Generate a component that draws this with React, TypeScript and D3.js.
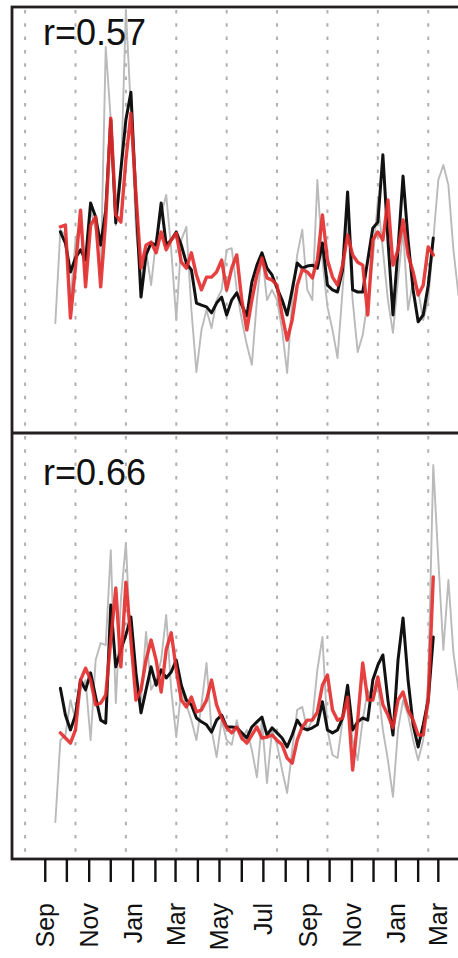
import React from "react";
import * as d3 from "d3";

// Weekly series, first value at week index START_* (weeks counted from ORIGIN)
const ORIGIN_UTC = Date.UTC(2008, 7, 4);
const START_OBS = 6;
const START_FIT = 7;

// Panel A
const observedA = [25.8, 47.7, 46.5, 31.2, 45.3, 48.8, 35.9, 52.3, 47.7, 37.1, 90.6, 73.5, 48.8, 59.4, 99.3, 75.8, 47.7, 35.9, 43.0, 34.7, 45.3, 51.2, 55.9, 43.0, 26.5, 45.3, 48.4, 28.9, 14.3, 24.2, 28.9, 24.6, 31.2, 33.6, 43.0, 43.4, 33.6, 26.5, 20.7, 16.0, 31.2, 42.3, 31.2, 33.6, 31.2, 24.2, 14.1, 31.2, 41.8, 47.7, 33.6, 31.2, 59.4, 40.6, 29.6, 24.2, 17.6, 33.6, 50.0, 31.2, 19.0, 23.0, 31.2, 40.6, 54.7, 43.0, 31.2, 23.5, 35.9, 47.7, 28.9, 35.9, 33.6, 26.5, 31.2, 45.3, 59.4, 62.9, 58.2, 43.0, 32.4];
const fittedA = [47.2, 44.6, 37.8, 41.1, 43.0, 40.6, 54.0, 50.7, 44.1, 52.3, 73.5, 49.3, 61.7, 73.5, 80.0, 54.7, 31.9, 41.8, 44.6, 44.1, 54.0, 44.1, 45.3, 47.2, 44.1, 39.9, 38.3, 30.5, 30.0, 29.6, 28.2, 30.5, 31.9, 27.7, 31.2, 32.9, 30.0, 27.5, 35.4, 39.4, 42.3, 38.7, 37.1, 34.0, 31.2, 27.7, 33.6, 39.9, 38.7, 39.2, 39.4, 38.7, 44.6, 34.7, 33.6, 33.1, 38.3, 56.6, 33.6, 33.1, 33.1, 40.6, 48.1, 49.5, 65.3, 45.3, 27.7, 43.0, 60.3, 45.3, 33.6, 26.1, 27.7, 34.7, 45.8];
const estimatedA = [48.4, 48.8, 27.0, 39.0, 52.3, 34.3, 48.8, 50.7, 34.3, 50.0, 73.9, 51.2, 49.5, 64.1, 75.1, 55.9, 38.7, 44.1, 44.8, 42.3, 47.2, 43.0, 45.3, 46.9, 40.1, 38.7, 42.3, 37.1, 33.6, 36.6, 36.6, 37.8, 40.6, 33.6, 38.7, 41.8, 31.2, 24.2, 31.2, 37.1, 41.1, 36.4, 35.9, 34.7, 27.7, 21.8, 26.5, 34.7, 38.3, 37.8, 36.4, 40.6, 51.2, 40.6, 36.6, 34.7, 39.4, 46.5, 41.8, 40.1, 39.4, 27.7, 45.3, 47.2, 45.3, 54.7, 39.4, 43.0, 50.0, 41.8, 37.8, 32.4, 34.7, 43.7, 41.8];

// Panel B
const observedB = [8.7, 27.9, 29.1, 37.3, 32.6, 39.7, 42.0, 27.9, 46.7, 50.7, 50.2, 72.5, 36.6, 60.8, 74.2, 49.1, 42.0, 37.3, 53.3, 39.7, 42.0, 46.7, 57.3, 39.7, 28.6, 39.7, 36.2, 32.6, 27.9, 36.2, 46.0, 30.3, 23.9, 32.6, 27.9, 26.8, 32.6, 27.9, 30.3, 25.6, 19.2, 32.6, 17.8, 30.3, 26.8, 20.9, 15.5, 25.6, 35.0, 35.7, 30.3, 32.6, 44.4, 52.1, 30.3, 24.4, 23.7, 32.6, 37.3, 27.9, 23.2, 32.6, 39.7, 37.3, 40.8, 30.3, 23.2, 14.6, 30.3, 37.3, 33.8, 27.9, 23.2, 27.9, 42.0, 92.5, 70.2, 49.1, 65.5, 48.4, 39.7];
const fittedB = [40.1, 33.8, 30.3, 33.8, 42.0, 39.7, 43.7, 38.0, 32.6, 31.9, 59.6, 45.1, 49.1, 52.6, 56.8, 43.7, 34.3, 39.7, 45.1, 40.8, 44.4, 42.5, 43.9, 46.7, 40.8, 37.3, 36.2, 33.1, 32.2, 31.5, 29.8, 32.6, 33.8, 31.0, 31.0, 30.8, 29.6, 28.4, 31.0, 32.2, 33.3, 29.1, 30.8, 29.6, 28.4, 26.3, 29.1, 32.6, 30.8, 30.3, 30.8, 31.5, 36.9, 30.3, 29.6, 30.3, 33.1, 40.8, 30.3, 32.2, 33.1, 32.6, 42.0, 45.5, 47.9, 37.3, 29.1, 46.7, 56.6, 42.0, 31.5, 26.3, 31.5, 37.3, 52.1];
const estimatedB = [29.6, 28.4, 27.2, 30.3, 42.0, 44.8, 42.0, 36.2, 36.6, 38.5, 51.4, 63.6, 45.1, 65.0, 51.4, 37.3, 39.7, 46.7, 51.4, 46.7, 39.2, 49.1, 53.1, 44.4, 37.3, 35.7, 38.0, 34.5, 35.0, 37.3, 42.0, 36.2, 33.1, 30.8, 29.6, 31.0, 28.4, 27.2, 29.1, 31.0, 28.4, 28.6, 29.1, 27.9, 26.8, 23.7, 22.5, 27.9, 31.0, 32.6, 32.6, 34.5, 40.8, 43.2, 35.0, 32.6, 33.1, 38.0, 20.9, 32.6, 46.0, 37.3, 37.3, 42.7, 36.2, 33.8, 30.8, 37.3, 39.2, 35.0, 32.6, 29.1, 29.1, 37.3, 66.2];

const correlations = ["r=0.57", "r=0.66"];

const W = 458;
const H = 958;
const FRAME = { left: 12, right: 462, top: 7, mid: 433, bottom: 859 };
const WEEK_MS = 7 * 864e5;
const weekToDate = (w: number) => new Date(ORIGIN_UTC + w * WEEK_MS);

const FONT = "'Liberation Sans', Arial, Helvetica, sans-serif";
const FRAME_COLOR = "#231f20";

export default function App() {
  const x = d3
    .scaleUtc()
    .domain([weekToDate(-2.6), weekToDate(86.7)])
    .range([FRAME.left, FRAME.right]);

  const panels = [
    { top: FRAME.top, bottom: FRAME.mid, obs: observedA, fit: fittedA, est: estimatedA, label: correlations[0], labelY: 45 },
    { top: FRAME.mid, bottom: FRAME.bottom, obs: observedB, fit: fittedB, est: estimatedB, label: correlations[1], labelY: 485 },
  ];

  const gridWeeks = d3.range(0, 81, 10);
  const monthTicks = d3.utcMonth.range(new Date(Date.UTC(2008, 8, 1)), new Date(Date.UTC(2010, 2, 2)));
  const fmt = d3.utcFormat("%b");

  const lineFor = (y: d3.ScaleLinear<number, number>, start: number) =>
    d3
      .line<number>()
      .x((_, i) => x(weekToDate(start + i)))
      .y((v) => y(v));

  const tickTop = FRAME.bottom;
  const tickLen = 23;
  const labelSize = 25;

  return (
    <svg
      width={W}
      height={H}
      viewBox={`0 0 ${W} ${H}`}
      style={{ position: "absolute", left: 0, top: 0, background: "#fff" }}
    >
      <defs>
        {panels.map((p, i) => (
          <clipPath id={`panel-clip-${i}`} key={i}>
            <rect x={FRAME.left} y={p.top} width={FRAME.right - FRAME.left} height={p.bottom - p.top} />
          </clipPath>
        ))}
      </defs>
      <rect x={0} y={0} width={W} height={H} fill="#fff" />

      {panels.map((p, i) => {
        const y = d3.scaleLinear().domain([0, 100]).range([p.bottom, p.top]);
        return (
          <g key={i}>
            {gridWeeks.map((w) => (
              <line
                key={w}
                x1={x(weekToDate(w))}
                x2={x(weekToDate(w))}
                y1={p.top + 3}
                y2={p.bottom - 2}
                stroke="#b0b0b0"
                strokeWidth={2}
                strokeDasharray="3.5 9.8"
              />
            ))}
            <g clipPath={`url(#panel-clip-${i})`} fill="none" strokeLinejoin="round" strokeLinecap="round">
              <path d={lineFor(y, START_OBS)(p.obs) || ""} stroke="#bababa" strokeWidth={1.9} />
              <path d={lineFor(y, START_FIT)(p.fit) || ""} stroke="#111111" strokeWidth={3} />
              <path d={lineFor(y, START_FIT)(p.est) || ""} stroke="#e32b2b" strokeWidth={3.4} strokeOpacity={0.9} />
            </g>
            <text x={43} y={p.labelY} fontFamily={FONT} fontSize={36} fill="#111">
              {p.label}
            </text>
          </g>
        );
      })}

      {/* frame */}
      <rect
        x={FRAME.left}
        y={FRAME.top}
        width={FRAME.right - FRAME.left}
        height={FRAME.bottom - FRAME.top}
        fill="none"
        stroke={FRAME_COLOR}
        strokeWidth={2.8}
      />
      <line x1={FRAME.left} x2={FRAME.right} y1={FRAME.mid} y2={FRAME.mid} stroke={FRAME_COLOR} strokeWidth={2.8} />

      {/* month axis */}
      {monthTicks.map((d, i) => {
        const tx = x(d);
        return (
          <g key={i}>
            <line x1={tx} x2={tx} y1={tickTop} y2={tickTop + tickLen} stroke="#111" strokeWidth={2.4} />
            {i % 2 === 0 && (
              <text
                transform={`translate(${tx + labelSize * 0.36},${903}) rotate(-90)`}
                textAnchor="end"
                fontFamily={FONT}
                fontSize={labelSize}
                fill="#111"
              >
                {fmt(d)}
              </text>
            )}
          </g>
        );
      })}
    </svg>
  );
}
